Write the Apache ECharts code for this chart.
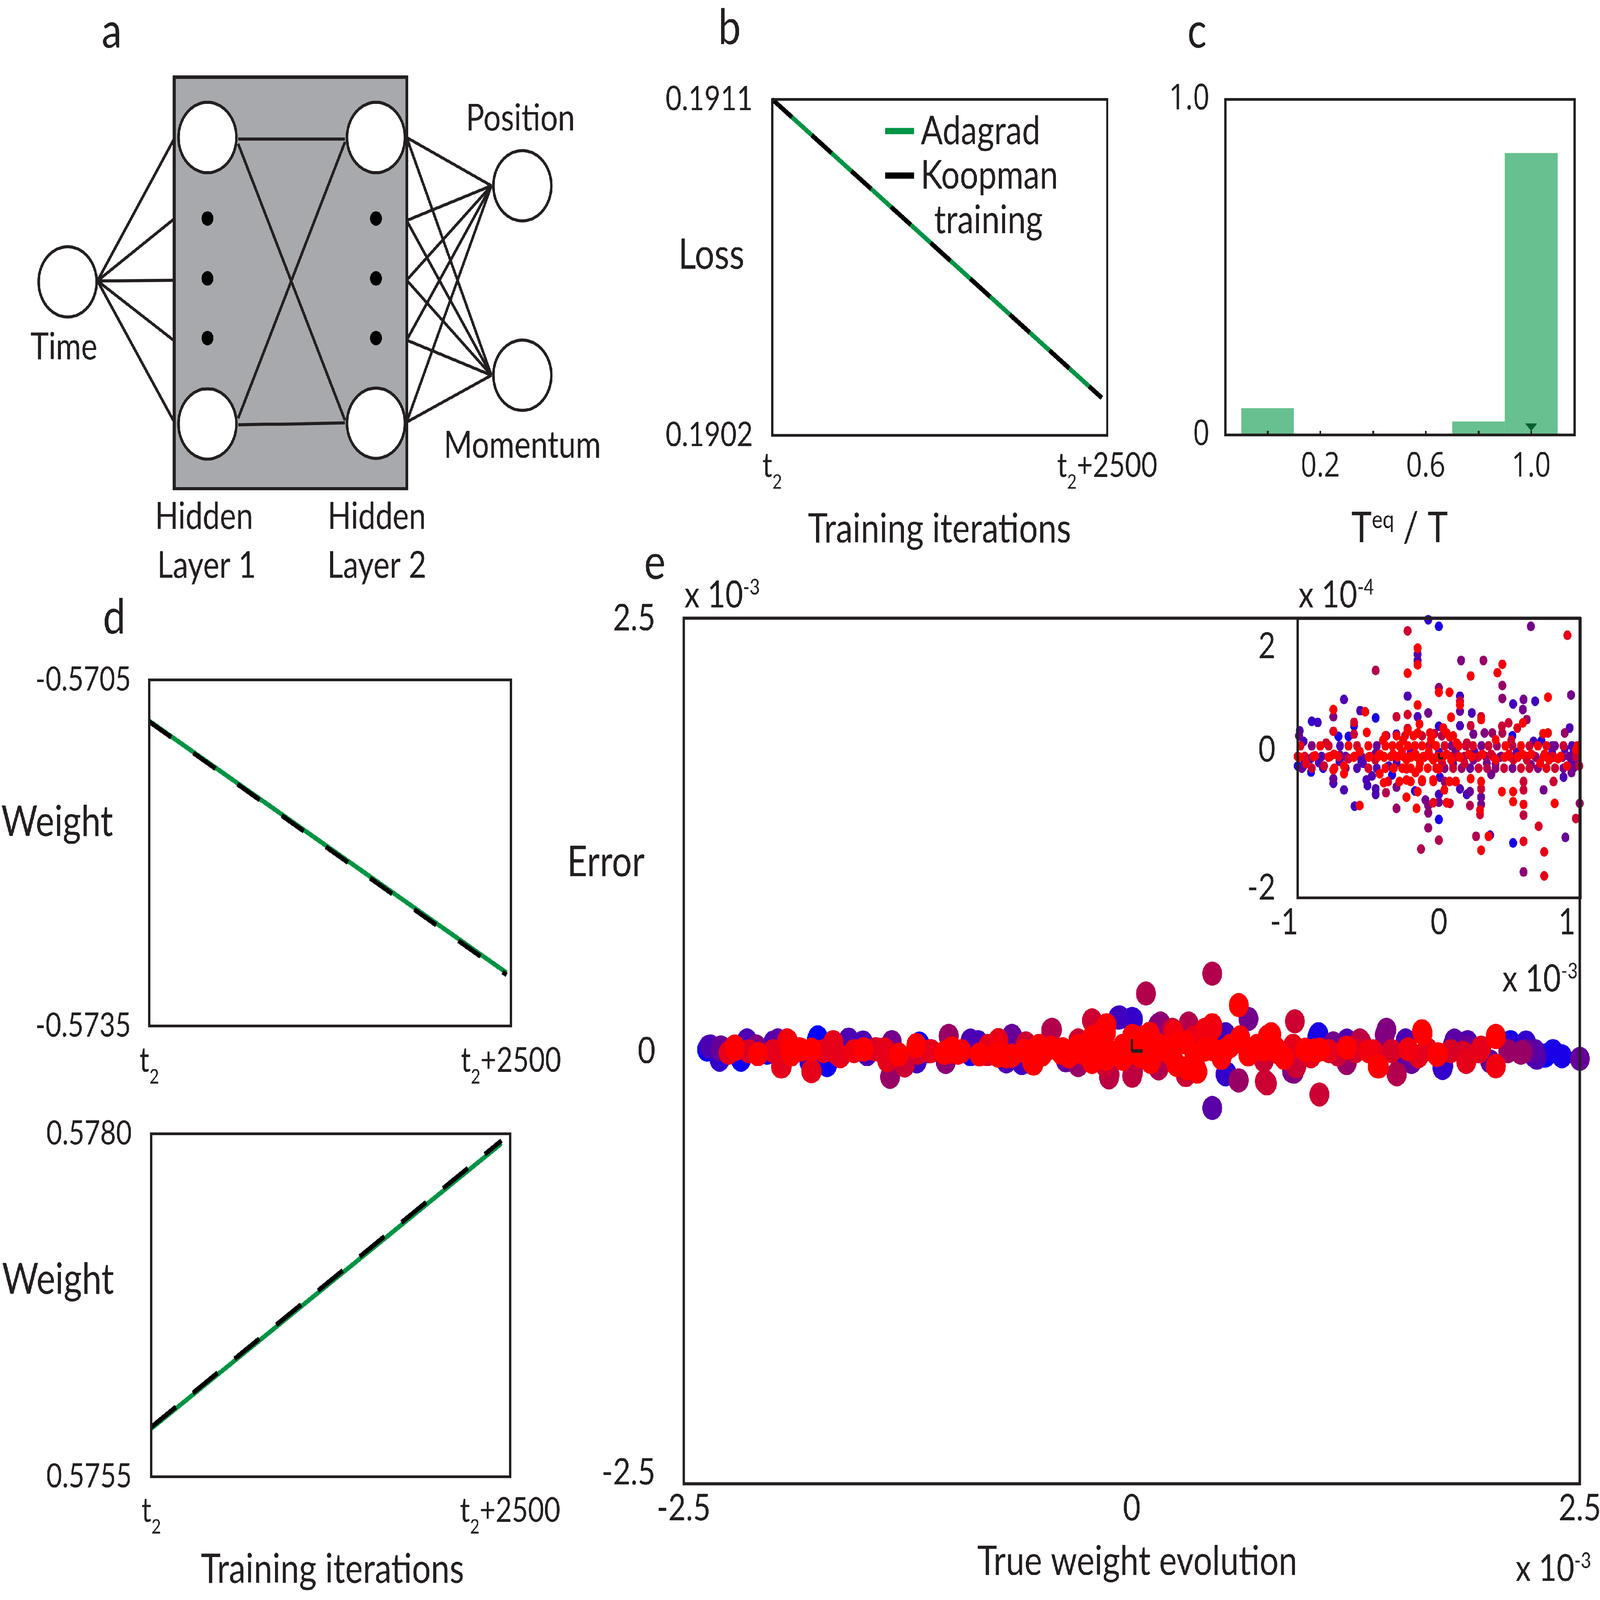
<!DOCTYPE html>
<html><head><meta charset="utf-8">
<script src="https://cdn.jsdelivr.net/npm/echarts@6/dist/echarts.min.js"></script>
<style>html,body{margin:0;padding:0;background:#fff;overflow:hidden}#c{width:5630px;height:4643px;transform-origin:0 0}</style>
</head><body><div id="c"></div>
<script>
// ---------------- data ----------------
// panel a: network schematic (diagram units)
const netBox = [613, 224, 1432, 1418];
const netNodes = [[238,818],[730,399],[730,1230],[1323,399],[1323,1228],[1838,539],[1838,1089]];
const netDots = [[730,634],[730,808],[730,981],[1323,634],[1323,808],[1323,981]];
const netEdges = [
  [343,815,610,407],[343,815,610,637],[343,815,610,813],[343,815,610,987],[343,815,610,1220],
  [838,403,1214,403],[838,417,1214,1220],[838,1214,1214,412],[838,1233,1214,1227],
  [1431,399,1729,539],[1431,640,1729,539],[1431,813,1729,539],[1431,987,1729,539],[1431,1225,1729,539],
  [1431,399,1729,1089],[1431,640,1729,1089],[1431,813,1729,1089],[1431,987,1729,1089],[1431,1225,1729,1089]
];
// panel b: loss
const lossIter = [0, 2460];
const lossAdagrad = [0.19110, 0.19030];
const lossKoopman = [0.19110, 0.19030];
const lossTicks = [0.1902, 0.1911];
// panel c: histogram of Teq/T
const teqBins = [[-0.1,0.1],[0.7,0.9],[0.9,1.1]];
const teqFreq = [0.08, 0.04, 0.84];
const teqMarker = [[1.0, 0]];
const teqTicks = [0, 0.2, 0.4, 0.6, 0.8, 1.0];
const teqLabels = [0.2, 0.6, 1.0];
// panel d: weights
const w1Iter = [0, 2470];
const w1Adagrad = [-0.570856, -0.573040];
const w1Koopman = [-0.570862, -0.573058];
const w1Ticks = [-0.5735, -0.5705];
const w2Iter = [0, 2440];
const w2Adagrad = [0.575850, 0.577930];
const w2Koopman = [0.575861, 0.577950];
const w2Ticks = [0.5755, 0.5780];
const iterTicks = [0, 2500];
// panel e: [true weight evolution (1e-3), error (1e-3), colour position 0=blue..1=red]
const mainPoints = [
[-2.370,0.008,0.0],[-2.350,0.026,0.3],[-2.293,0.021,0.4],[-2.216,0.026,1.0],[-2.181,-0.050,0.05],[-2.147,0.061,0.25],[-2.087,-0.018,1.0],[-2.138,-0.001,0.85],[-2.095,0.026,0.5],[-2.035,-0.010,0.05],
[-1.975,0.061,0.35],[-1.958,-0.089,0.9],[-1.924,0.061,0.85],[-1.906,0.013,1.0],[-1.846,0.008,1.0],[-1.786,-0.116,0.9],[-1.786,0.008,1.0],[-1.752,0.079,0.0],[-1.700,-0.081,0.05],[-1.666,0.052,0.9],
[-1.649,-0.010,0.9],[-1.580,0.066,0.3],[-1.494,0.008,1.0],[-1.477,-0.018,0.3],[-1.416,0.008,0.85],[-1.365,-0.054,0.85],[-1.348,-0.147,0.6],[-1.339,0.052,0.45],[-1.270,-0.081,0.7],[-1.227,-0.036,0.3],
[-1.202,0.035,1.0],[-1.193,-0.010,0.85],[-1.133,-0.001,0.45],[-1.047,-0.010,1.0],[-1.038,-0.063,0.5],[-1.021,0.088,0.6],[-1.004,0.017,1.0],[-0.970,-0.010,1.0],[-0.901,-0.018,0.1],[-0.858,0.052,0.25],
[-0.806,-0.018,0.85],[-0.746,0.026,0.95],[-0.746,-0.027,1.0],[-0.669,0.088,0.4],[-0.669,-0.027,1.0],[-0.600,-0.063,0.2],[-0.591,0.044,0.8],[-0.557,-0.063,1.0],[-0.523,0.026,1.0],[-0.445,0.123,0.7],
[-0.394,-0.010,1.0],[-0.368,-0.054,0.4],[-0.299,-0.081,0.6],[-0.299,0.061,0.8],[-0.222,0.177,0.8],[-0.222,0.079,1.0],[-0.222,-0.063,1.0],[-0.144,0.106,1.0],[-0.144,-0.045,1.0],[-0.127,-0.152,0.7],
[-0.067,0.194,0.2],[0.002,0.186,0.2],[0.002,0.088,1.0],[0.002,-0.143,0.75],[0.071,0.008,1.0],[0.079,0.332,0.7],[0.148,0.150,0.45],[0.148,0.035,1.0],[-0.273,-0.010,1.0],[-0.101,-0.010,1.0],
[-0.050,-0.045,1.0],[0.105,-0.063,1.0],
[0.160,0.159,0.55],[0.226,0.123,0.8],[0.317,0.159,0.7],[0.408,0.123,0.95],[0.449,0.150,0.95],[0.449,0.447,0.7],[0.449,-0.329,0.35],[0.597,0.265,1.0],
[0.651,0.186,0.45],[0.523,0.097,0.25],[0.523,-0.134,0.2],[0.597,-0.169,0.55],[0.754,-0.187,0.8],[0.778,0.097,1.0],[0.910,0.172,0.8],[0.894,-0.116,0.45],[0.968,0.008,1.0],[1.047,-0.251,0.8],
[1.042,0.097,0.1],[1.050,0.008,1.0],[1.124,0.044,0.45],[1.199,-0.054,0.5],[1.273,0.061,0.7],[1.347,-0.001,0.9],[1.372,-0.089,1.0],[1.421,0.123,0.5],[1.479,-0.134,0.7],[1.528,0.061,0.3],
[1.561,-0.063,0.4],[1.619,0.115,1.0],[1.709,-0.018,1.0],[1.734,-0.098,0.2],[1.792,0.035,0.1],[1.866,-0.063,0.8],[1.874,0.052,0.3],[1.940,-0.001,0.85],[2.031,0.088,0.95],[2.031,-0.089,0.9],
[2.113,0.052,0.05],[2.171,-0.010,0.6],[2.245,-0.027,0.3],[2.303,-0.027,0.0],[2.500,-0.045,0.4],
[0.029,0.008,1.0],[0.127,-0.010,1.0],[0.226,-0.027,1.0],[0.309,-0.098,1.0],[0.358,-0.098,1.0],[0.408,0.008,1.0],[0.523,0.008,1.0],[0.605,0.079,1.0],[0.671,0.000,1.0],[0.737,-0.054,0.8],
[0.737,0.008,1.0],[0.820,-0.010,1.0],[0.918,-0.089,0.8],[1.150,-0.020,0.8],[1.250,0.000,0.85],[1.450,0.000,0.85],[1.650,0.010,0.9],[1.850,-0.010,0.85],[2.200,0.000,0.4],[2.350,0.000,0.1],
[-2.361,0.024,0.25],[-2.296,0.010,0.4],[-2.214,0.010,1.0],[-2.149,0.057,0.3],[-2.083,-0.016,0.9],[-1.920,0.060,0.95],[-1.953,-0.089,0.9],[-1.855,0.010,1.0],[-1.789,-0.116,0.85],[-1.757,0.067,0.0],
[-1.708,-0.076,0.05],[-1.665,0.040,0.9],[-1.577,0.053,0.3],[-1.626,-0.030,0.9],[-1.496,0.010,1.0],[-1.430,0.010,0.85],[-1.365,-0.049,0.9],[-1.349,-0.149,0.55],[-1.339,0.047,0.45],[-1.267,-0.083,0.8],
[-1.202,0.030,1.0],[-1.185,0.043,0.0],[-1.022,0.087,0.5],[-1.022,-0.006,0.95],[-1.038,-0.056,0.55],[-0.891,0.043,0.3],[-0.744,0.063,0.9],[-0.744,-0.016,1.0],[-0.663,0.077,0.3],[-0.614,-0.069,0.25],
[-0.548,-0.073,1.0],[-0.516,0.030,1.0],[-0.450,0.120,0.7],[-0.385,0.010,1.0],[-0.287,-0.056,0.5],[-0.222,0.176,0.8],[-0.140,0.150,1.0],[-0.075,0.193,0.25],[0.007,0.183,0.2],[-0.124,-0.136,0.75],
[0.007,-0.122,0.7],[0.007,0.087,0.95],[0.072,0.083,1.0],[0.154,0.133,0.5],[0.235,0.110,0.95],[0.317,0.133,0.7],[0.301,0.050,1.0],[0.301,-0.139,0.8],[0.366,-0.119,1.0],[0.448,0.130,0.95],
[0.529,-0.129,0.1],[0.595,-0.169,0.6],[0.758,0.083,0.95],[0.742,-0.175,0.8],[0.905,-0.119,0.5],[1.036,0.083,0.1],[1.019,0.004,1.0],[1.199,-0.069,0.6],[1.281,0.050,0.75],[1.411,0.093,0.5],
[1.379,-0.089,1.0],[1.477,-0.132,0.7],[1.623,0.103,1.0],[1.542,0.010,0.95],[1.738,-0.086,0.2],[1.705,-0.023,1.0],[1.868,-0.056,0.9],[1.868,0.024,0.4],[2.032,0.080,1.0],[2.032,-0.086,0.95],
[2.113,0.030,0.15],[2.179,-0.006,0.6],[2.260,-0.039,0.3],[2.309,-0.026,0.0],
[-0.60,0.00,1.0],[-0.50,-0.02,1.0],[-0.45,0.02,1.0],[-0.35,-0.03,1.0],[-0.30,0.03,1.0],[-0.20,0.00,1.0],[-0.15,-0.02,1.0],[-0.05,0.03,1.0],[0.05,-0.03,1.0],[0.10,0.02,1.0],
[0.20,0.00,1.0],[0.25,0.04,1.0],[0.35,-0.03,1.0],[0.45,0.01,1.0],[0.50,-0.04,1.0],[0.55,0.03,1.0],[0.65,-0.02,1.0],[0.70,0.03,1.0],[0.80,0.02,1.0],[0.85,-0.04,1.0],
[0.90,0.03,0.9],[-0.18,0.10,1.0],[-0.15,-0.08,0.8],[0.10,0.10,1.0],[0.25,-0.08,1.0],[0.35,0.08,0.9],[0.15,-0.10,0.7],
[-2.25,-0.01,0.9],[-2.00,0.00,0.9],[-1.90,-0.02,1.0],[-1.72,0.00,0.9],[-1.55,0.00,0.95],[-1.38,0.01,0.9],[-1.30,-0.02,1.0],[-1.12,0.00,0.9],[-0.95,0.00,0.95],[-0.85,-0.02,1.0],
[-0.80,0.03,0.9],[-0.70,-0.03,0.95],[1.00,-0.03,0.9],[1.10,0.00,0.9],[1.20,0.02,1.0],[1.32,0.00,0.95],[1.60,-0.03,0.9],[1.78,0.00,0.85],[1.95,0.02,0.9],[2.10,0.00,0.6],[2.25,0.00,0.35],
[-2.30,-0.05,0.2],[-2.00,0.05,0.3],[-1.80,-0.06,0.2],[-1.50,0.05,0.3],[-1.20,-0.06,0.25],[-0.90,0.06,0.3],[-0.70,-0.06,0.3],[1.20,0.06,0.3],[1.50,-0.06,0.3],[1.80,0.06,0.35],
[2.00,-0.06,0.4],[2.20,0.05,0.2],[2.40,-0.03,0.1]
];
// inset: [true weight evolution (1e-3), error (1e-4), colour position]
const insetPoints = [
[-0.076,2.48,0.2],[-0.001,2.36,0.1],[0.650,2.36,0.45],[0.908,2.20,0.9],[-0.222,2.28,0.8],[-0.151,1.97,1.0],[-0.151,1.86,0.35],[-0.151,1.75,0.3],[-0.151,1.67,1.0],[-0.448,1.57,0.7],
[0.156,1.75,0.5],[0.314,1.75,0.6],[0.448,1.68,0.95],[0.413,1.53,0.95],[0.224,1.47,0.95],[-0.222,1.52,1.0],[0.448,1.30,0.6],[-0.001,1.26,0.55],[-0.001,1.18,1.0],[0.074,1.18,1.0],
[-0.222,1.11,0.3],[0.148,1.11,0.25],[0.934,1.13,0.45],[0.771,1.09,1.0],[-0.672,1.05,0.3],[0.448,1.07,0.55],[0.598,1.05,0.45],[0.524,0.97,0.25],[0.680,1.02,0.25],[0.148,1.02,0.8],
[-0.151,0.95,1.0],[0.148,0.95,1.0],[-0.747,0.87,1.0],[-0.747,0.74,0.5],[-0.558,0.85,0.3],[-0.522,0.83,1.0],[0.593,0.87,0.45],[0.148,0.84,0.4],[-0.900,0.66,0.2],[-0.858,0.64,0.25],
[-0.448,0.72,0.1],[-0.301,0.74,0.8],[-0.222,0.78,0.85],[-0.076,0.81,0.45],[-0.151,0.74,0.3],[0.085,0.73,1.0],[0.232,0.81,0.3],[0.298,0.74,0.8],[0.298,0.69,1.0],[0.621,0.69,0.6],
[0.593,0.63,1.0],[0.492,0.63,0.8],[-0.601,0.64,0.85],[-0.601,0.58,0.1],[-0.138,0.61,1.0],[-0.222,0.53,0.85],[-0.001,0.57,0.15],[0.030,0.54,1.0],[0.148,0.58,0.3],[0.224,0.58,0.8],
[0.445,0.57,0.8],[0.554,0.54,0.9],[0.924,0.54,0.3],[-0.985,0.49,0.3],[-0.990,0.40,0.4],[-0.747,0.48,0.9],[-0.711,0.39,0.1],[-0.640,0.39,0.1],[-0.601,0.43,0.8],[-0.511,0.46,1.0],
[-0.372,0.40,0.3],[-0.301,0.43,0.25],[-0.222,0.48,1.0],[-0.151,0.45,1.0],[-0.064,0.45,0.95],[-0.033,0.44,0.75],[0.054,0.45,1.0],[0.077,0.38,1.0],[0.243,0.43,0.45],[0.322,0.45,0.5],
[0.377,0.45,0.6],[0.448,0.45,0.7],[0.519,0.40,0.1],[0.737,0.44,1.0],[0.771,0.45,0.95],[0.889,0.45,0.6],[-0.396,0.32,1.0],[-0.254,0.32,1.0],[-0.057,0.33,1.0],[0.125,0.27,1.0],
[0.196,0.27,0.8],[0.401,0.33,1.0],[0.511,0.32,0.8],[0.669,0.30,0.3],[0.724,0.31,0.15],[-0.798,0.27,0.8],[-0.958,0.30,0.3],[0.803,0.22,0.3],[0.889,0.17,0.3],[0.953,0.12,0.15],
[0.968,0.15,1.0],
[-0.987,0.02,1.0],[-0.940,-0.09,0.9],[-0.908,-0.01,0.3],[-0.876,0.04,1.0],[-0.813,-0.14,0.8],[-0.782,0.02,1.0],[-0.742,0.07,1.0],[-0.742,-0.19,1.0],[-0.703,-0.06,0.3],[-0.672,-0.14,1.0],
[-0.640,-0.01,0.8],[-0.601,0.02,1.0],[-0.561,0.12,1.0],[-0.537,-0.09,0.3],[-0.498,0.02,1.0],[-0.451,-0.03,0.8],[-0.419,0.07,1.0],[-0.388,0.02,1.0],[-0.356,-0.14,0.3],[-0.325,0.07,1.0],
[-0.293,0.02,1.0],[-0.262,0.12,1.0],[-0.230,-0.03,1.0],[-0.198,0.02,1.0],[-0.167,0.07,1.0],[-0.135,-0.09,1.0],[-0.104,0.02,1.0],[-0.072,0.12,1.0],[-0.041,-0.03,1.0],[-0.009,0.02,1.0],
[0.022,-0.09,0.8],[0.054,0.07,1.0],[0.085,-0.03,1.0],[0.117,0.12,0.45],[0.148,0.02,1.0],[0.180,-0.09,0.8],[0.211,0.07,1.0],[0.243,-0.03,0.45],[0.274,0.02,0.8],[0.306,0.07,1.0],
[0.338,-0.09,0.45],[0.369,0.07,0.8],[0.401,-0.03,1.0],[0.432,0.02,0.45],[0.464,0.02,1.0],[0.495,0.07,1.0],[0.527,-0.03,0.8],[0.558,0.02,1.0],[0.590,0.07,1.0],[0.621,-0.03,0.8],
[0.653,0.07,1.0],[0.684,0.02,0.45],[0.716,-0.09,1.0],[0.747,0.07,1.0],[0.779,-0.03,1.0],[0.810,0.02,0.8],[0.842,-0.01,1.0],[0.874,0.02,0.45],[0.905,-0.14,1.0],[0.937,-0.09,0.3],
[0.968,-0.01,0.45],[0.992,-0.14,0.8],
[-0.95,-0.05,0.1],[-0.85,-0.08,0.3],[-0.70,0.05,0.4],[-0.55,-0.05,0.2],[-0.45,0.08,0.4],[-0.30,-0.08,0.3],[-0.20,0.10,0.4],[0.00,0.10,0.3],[0.10,-0.10,0.4],[0.25,0.12,0.35],
[0.40,-0.10,0.4],[0.55,0.10,0.3],[0.65,-0.12,0.5],[0.80,0.10,0.35],[0.95,0.05,0.3],
[-0.999,-0.14,0.1],[-0.958,-0.14,0.3],[-0.905,-0.25,0.05],[-0.747,-0.21,1.0],[-0.747,-0.37,0.4],[-0.747,-0.45,0.3],[-0.672,-0.28,1.0],[-0.672,-0.57,0.3],[-0.597,-0.86,0.25],[-0.561,-0.85,1.0],
[-0.514,-0.39,0.3],[-0.506,-0.49,0.25],[-0.474,-0.32,0.3],[-0.448,-0.55,0.3],[-0.448,-0.65,0.3],[-0.419,-0.28,1.0],[-0.391,-0.44,1.0],[-0.375,-0.62,0.7],[-0.332,-0.30,0.1],[-0.301,-0.52,0.5],
[-0.301,-0.90,0.6],[-0.230,-0.19,1.0],[-0.230,-0.39,1.0],[-0.230,-0.70,1.0],[-0.170,-0.59,0.1],[-0.151,-0.60,1.0],[-0.159,-0.90,1.0],[-0.120,-0.39,1.0],[-0.167,-0.26,1.0],[-0.096,-0.75,0.45],
[-0.076,-0.85,0.5],[-0.076,-0.98,0.55],[-0.041,-0.80,0.9],[-0.041,-0.39,1.0],[-0.001,-0.19,1.0],[0.006,-0.34,0.2],[-0.001,-0.65,0.25],[-0.001,-0.79,0.4],[0.038,-0.57,1.0],[0.054,-0.80,1.0],
[0.077,-0.81,0.75],[0.074,-0.42,1.0],[0.148,-0.55,0.3],[0.117,-0.42,0.85],[0.196,-0.65,0.25],[0.219,-0.60,0.4],[0.219,-0.85,0.7],[0.224,-0.37,1.0],[0.298,-0.42,1.0],[0.298,-0.55,0.8],
[0.298,-0.70,0.4],[0.298,-0.83,0.45],[0.290,-0.93,0.95],[0.290,-1.01,0.8],[0.369,-0.29,0.45],[0.445,-0.60,1.0],[0.524,-0.60,1.0],[0.524,-0.78,1.0],[0.598,-0.42,0.8],[0.598,-0.57,0.8],
[0.598,-0.83,0.95],[0.598,-1.02,0.75],[0.740,-0.57,0.45],[0.818,-0.81,1.0],[0.810,-0.42,0.8],[0.881,-0.34,0.3],[0.937,-0.26,0.45],[0.995,-0.81,0.6],[0.968,-1.08,0.8],[-0.001,-1.10,0.1],
[-0.076,-1.25,0.6],[-0.001,-1.47,0.7],[-0.127,-1.63,0.7],[0.262,-1.40,0.7],[0.298,-1.65,0.95],[0.361,-1.38,0.3],[0.350,-1.40,1.0],[0.524,-1.52,0.1],[0.598,-1.49,0.9],[0.705,-1.22,0.85],
[0.744,-1.68,0.9],[0.894,-1.42,0.4],[0.598,-2.04,0.55],[0.744,-2.11,0.9],
[-0.98,0.22,0.9],[-0.90,0.22,0.5],[-0.84,0.22,1.0],[-0.78,0.22,0.85],[-0.70,0.22,0.3],[-0.64,0.22,1.0],[-0.58,0.22,0.85],[-0.50,0.22,1.0],[-0.44,0.22,0.4],[-0.38,0.22,1.0],
[-0.33,0.22,1.0],[-0.28,0.22,1.0],[-0.22,0.22,1.0],[-0.17,0.22,1.0],[-0.12,0.22,1.0],[-0.07,0.22,0.8],[-0.02,0.22,1.0],[0.04,0.22,0.85],[0.09,0.22,0.5],[0.14,0.22,1.0],
[0.19,0.22,0.75],[0.24,0.22,0.85],[0.30,0.22,0.45],[0.35,0.22,0.8],[0.41,0.22,0.6],[0.47,0.22,1.0],[0.52,0.22,0.7],[0.58,0.22,1.0],[0.64,0.22,0.8],[0.70,0.22,1.0],
[0.76,0.22,0.9],[0.82,0.22,0.45],[0.88,0.22,0.8],[0.94,0.22,0.3],[0.98,0.22,1.0],
[-1.00,0.03,1.0],[-0.95,0.03,0.85],[-0.89,0.03,0.9],[-0.83,0.03,0.3],[-0.77,0.03,0.85],[-0.71,0.03,0.9],[-0.66,0.03,0.4],[-0.60,0.03,0.9],[-0.55,0.03,0.3],[-0.49,0.03,0.95],
[-0.43,0.03,1.0],[-0.39,0.03,1.0],[-0.34,0.03,1.0],[-0.29,0.03,1.0],[-0.25,0.03,1.0],[-0.20,0.03,1.0],[-0.16,0.03,1.0],[-0.11,0.03,1.0],[-0.06,0.03,1.0],[-0.01,0.03,0.9],
[0.03,0.03,1.0],[0.08,0.03,0.85],[0.13,0.03,0.8],[0.18,0.03,0.55],[0.23,0.03,1.0],[0.28,0.03,0.8],[0.33,0.03,0.6],[0.38,0.03,0.85],[0.44,0.03,0.45],[0.50,0.03,0.85],
[0.56,0.03,1.0],[0.62,0.03,0.85],[0.68,0.03,0.6],[0.74,0.03,1.0],[0.80,0.03,0.85],[0.86,0.03,1.0],[0.92,0.03,0.45],[0.97,0.03,0.8],
[-0.97,-0.18,0.4],[-0.90,-0.18,0.8],[-0.82,-0.18,0.2],[-0.74,-0.18,0.9],[-0.66,-0.18,0.55],[-0.58,-0.18,0.3],[-0.50,-0.18,0.85],[-0.44,-0.18,0.3],[-0.38,-0.18,1.0],[-0.32,-0.18,1.0],
[-0.26,-0.18,1.0],[-0.20,-0.18,1.0],[-0.14,-0.18,1.0],[-0.08,-0.18,1.0],[-0.02,-0.18,0.9],[0.04,-0.18,0.5],[0.10,-0.18,0.8],[0.16,-0.18,0.6],[0.22,-0.18,0.4],[0.28,-0.18,0.8],
[0.34,-0.18,0.7],[0.40,-0.18,0.55],[0.46,-0.18,0.8],[0.52,-0.18,0.45],[0.58,-0.18,0.85],[0.64,-0.18,0.8],[0.70,-0.18,0.5],[0.76,-0.18,0.9],[0.82,-0.18,0.8],[0.88,-0.18,0.45],
[0.95,-0.18,0.4],
[-0.38,0.40,1.0],[-0.30,0.40,1.0],[-0.24,0.40,0.85],[-0.18,0.40,1.0],[-0.12,0.40,0.8],[-0.05,0.40,1.0],[0.02,0.40,0.7],[0.10,0.40,1.0],
[-0.36,-0.42,0.9],[-0.28,-0.42,1.0],[-0.20,-0.42,1.0],[-0.12,-0.42,0.8],[-0.04,-0.42,1.0],[0.04,-0.42,0.6],[0.12,-0.42,1.0]
];
const eTicks = [-2.5, 0, 2.5];
const insetXTicks = [-1, 0, 1];
const insetYTicks = [-2, 0, 2];

// ---------------- styles ----------------
const INK = '#231f20', GREEN = '#009444', BAR = '#67c08f', MARK = '#00612e';
const F = 'Lato', FC = 'Open Sans';
const pair = (xs, ys) => xs.map((x, i) => [x, ys[i]]);
const byColour = arr => arr.slice().sort((a, b) => a[2] - b[2]);

const tRich = {
  t: {fontFamily: F, fontSize: 98, lineHeight: 98, color: INK},
  s: {fontFamily: F, fontSize: 58, lineHeight: 58, color: INK, padding: [95, 0, 0, 0]}
};
const tFormatter = v => v === 0 ? '{t|t}{s|2}' : '{t|t}{s|2}{t|+2500}';
const box = (l, t, w, h, bw) => ({left: l, top: t, width: w, height: h, show: true, borderColor: INK,
  borderWidth: bw || 8, backgroundColor: 'transparent', containLabel: false, outerBoundsMode: 'none', z: 10});
const noAxis = {axisLine: {show: false}, splitLine: {show: false}};
const lab = (size, margin, vals, fmt, fam, rich) => ({show: true, customValues: vals, formatter: fmt, margin,
  fontFamily: fam || F, fontSize: size, color: INK, rich});
const iterX = (gi, margin) => Object.assign({gridIndex: gi, type: 'value', min: 0, max: 2500,
  axisTick: {show: false},
  axisLabel: {show: true, customValues: iterTicks, formatter: tFormatter, rich: tRich, margin}}, noAxis);
const tok = (size, padding) => ({fontFamily: F, fontSize: size, lineHeight: size, color: INK, padding});

function txt(text, x, y, size, align, fam) {
  return {type: 'text', x, y, silent: true, z: 50,
    style: {text, fill: INK, font: size + 'px ' + (fam || F), align: align || 'center', verticalAlign: 'middle'}};
}
function supTxt(base, sup, x, y, size, supSize, raise, align) {
  return {type: 'text', x, y, silent: true, z: 50,
    style: {text: '{a|' + base + '}{b|' + sup + '}', align: align || 'left', verticalAlign: 'middle',
      rich: {a: {fontFamily: F, fontSize: size, lineHeight: size, fill: INK},
             b: {fontFamily: F, fontSize: supSize, lineHeight: supSize, fill: INK, padding: [0, 0, raise, 0]}}}};
}

const option = {
  animation: false,
  backgroundColor: '#fff',
  textStyle: {fontFamily: F},
  grid: [
    {left: 0, top: 0, width: 2200, height: 1700, show: false, containLabel: false, outerBoundsMode: 'none'},
    box(2717, 288, 1179, 975),
    box(4312, 288, 1229, 974),
    box(525, 1973, 1273, 1004),
    box(532, 3290, 1263, 995),
    box(2406, 1794, 3153, 2512, 9),
    box(4566, 1795, 995, 810)
  ],
  xAxis: [
    {gridIndex: 0, type: 'value', min: 0, max: 2200, show: false},
    iterX(1, 40),
    Object.assign({gridIndex: 2, type: 'value', min: -0.16, max: 1.165, z: 12,
      axisTick: {show: true, inside: true, length: 12, customValues: teqTicks, lineStyle: {color: INK, width: 6}},
      axisLabel: lab(98, 44, teqLabels, v => v.toFixed(1), FC)}, noAxis),
    iterX(3, 52),
    iterX(4, 50),
    Object.assign({gridIndex: 5, type: 'value', min: -2.5, max: 2.5, z: 12,
      axisTick: {show: true, inside: true, length: 35, customValues: [0], lineStyle: {color: INK, width: 7}},
      axisLabel: lab(107, 18, eTicks, v => String(v))}, noAxis),
    Object.assign({gridIndex: 6, type: 'value', min: -1, max: 1, z: 12,
      axisTick: {show: true, inside: true, length: 14, customValues: [0], lineStyle: {color: INK, width: 7}},
      axisLabel: lab(104, 20, insetXTicks, v => v === 0 ? '0' : '{e|' + v + '}', F, {e: tok(104, [0, 94, 0, 0])})}, noAxis)
  ],
  yAxis: [
    {gridIndex: 0, type: 'value', min: 0, max: 1700, inverse: true, show: false},
    Object.assign({gridIndex: 1, type: 'value', min: 0.1902, max: 0.1911, axisTick: {show: false},
      axisLabel: lab(98, 68, lossTicks, v => v.toFixed(4))}, noAxis),
    Object.assign({gridIndex: 2, type: 'value', min: 0, max: 1, axisTick: {show: false},
      axisLabel: lab(102, 56, [0, 1], v => v === 0 ? '0' : '1.0', FC)}, noAxis),
    Object.assign({gridIndex: 3, type: 'value', min: -0.5735, max: -0.5705, axisTick: {show: false},
      axisLabel: lab(96, 64, w1Ticks, v => v.toFixed(4))}, noAxis),
    Object.assign({gridIndex: 4, type: 'value', min: 0.5755, max: 0.5780, axisTick: {show: false},
      axisLabel: lab(96, 68, w2Ticks, v => v.toFixed(4))}, noAxis),
    Object.assign({gridIndex: 5, type: 'value', min: -2.5, max: 2.5, z: 12,
      axisTick: {show: true, inside: true, length: 38, customValues: [0], lineStyle: {color: INK, width: 10}},
      axisLabel: lab(107, 100, eTicks, v => v < 0 ? '{lo|' + v + '}' : String(v), F, {lo: tok(107, [0, 0, 66, 0])})}, noAxis),
    Object.assign({gridIndex: 6, type: 'value', min: -2.5, max: 2.5, z: 12,
      axisTick: {show: true, inside: true, length: 14, customValues: [0], lineStyle: {color: INK, width: 7}},
      axisLabel: lab(104, 78, insetYTicks,
        v => v < 0 ? '{lo|' + v + '}' : (v === 0 ? '{z|0}' : String(v)), F,
        {lo: tok(104, [106, 0, 0, 0]), z: tok(104, [0, 0, 48, 0])})}, noAxis)
  ],
  legend: {
    left: 3109, top: 318, orient: 'vertical', itemWidth: 103, itemHeight: 18, itemGap: 14, icon: 'rect',
    selectedMode: false, data: ['Adagrad', 'Koopman training'],
    formatter: n => n === 'Koopman training' ? 'Koopman' : n,
    textStyle: {fontFamily: F, fontSize: 115, lineHeight: 115, color: INK, padding: [0, 0, 0, 18]}
  },
  visualMap: {type: 'continuous', show: false, dimension: 2, min: 0, max: 1, seriesIndex: [12, 13],
    inRange: {color: ['#0000ff', '#ff0000']}},
  series: [
    {type: 'custom', xAxisIndex: 0, yAxisIndex: 0, silent: true, z: 1, data: [netBox],
      renderItem: (p, api) => {
        const a = api.coord([api.value(0), api.value(1)]), b = api.coord([api.value(2), api.value(3)]);
        return {type: 'rect', shape: {x: a[0], y: a[1], width: b[0] - a[0], height: b[1] - a[1]},
          style: {fill: '#a7a9ac', stroke: INK, lineWidth: 10}};
      }},
    {type: 'lines', coordinateSystem: 'cartesian2d', xAxisIndex: 0, yAxisIndex: 0, silent: true, z: 2,
      data: netEdges.map(e => ({coords: [[e[0], e[1]], [e[2], e[3]]]})),
      lineStyle: {color: INK, width: 9, opacity: 1}},
    {type: 'scatter', xAxisIndex: 0, yAxisIndex: 0, silent: true, z: 3, data: netNodes, symbolSize: 204,
      itemStyle: {color: '#fff', borderColor: INK, borderWidth: 9, opacity: 1}},
    {type: 'scatter', xAxisIndex: 0, yAxisIndex: 0, silent: true, z: 3, data: netDots, symbolSize: 42,
      itemStyle: {color: '#000', opacity: 1}},
    {type: 'line', name: 'Adagrad', xAxisIndex: 1, yAxisIndex: 1, data: pair(lossIter, lossAdagrad), symbol: 'none',
      color: GREEN, itemStyle: {color: GREEN}, lineStyle: {color: GREEN, width: 14}},
    {type: 'line', name: 'Koopman training', xAxisIndex: 1, yAxisIndex: 1, data: pair(lossIter, lossKoopman), symbol: 'none',
      color: '#000', itemStyle: {color: '#000'}, lineStyle: {color: '#000', width: 14, type: [87, 87]}},
    {type: 'custom', xAxisIndex: 2, yAxisIndex: 2, silent: true, z: 2,
      data: teqBins.map((b, i) => [b[0], b[1], teqFreq[i]]),
      renderItem: (p, api) => {
        const a = api.coord([api.value(0), api.value(2)]), b = api.coord([api.value(1), 0]);
        return {type: 'rect', shape: {x: a[0], y: a[1], width: b[0] - a[0], height: b[1] - a[1]}, style: {fill: BAR}};
      }},
    {type: 'scatter', xAxisIndex: 2, yAxisIndex: 2, silent: true, z: 13, data: teqMarker, symbol: 'triangle',
      symbolRotate: 180, symbolSize: [42, 22], symbolOffset: [0, -22], itemStyle: {color: MARK, opacity: 1}},
    {type: 'line', name: 'Adagrad', xAxisIndex: 3, yAxisIndex: 3, data: pair(w1Iter, w1Adagrad), symbol: 'none',
      color: GREEN, lineStyle: {color: GREEN, width: 14}},
    {type: 'line', name: 'Koopman training', xAxisIndex: 3, yAxisIndex: 3, data: pair(w1Iter, w1Koopman), symbol: 'none',
      color: '#000', lineStyle: {color: '#000', width: 14, type: [90, 90]}},
    {type: 'line', name: 'Adagrad', xAxisIndex: 4, yAxisIndex: 4, data: pair(w2Iter, w2Adagrad), symbol: 'none',
      color: GREEN, lineStyle: {color: GREEN, width: 14}},
    {type: 'line', name: 'Koopman training', xAxisIndex: 4, yAxisIndex: 4, data: pair(w2Iter, w2Koopman), symbol: 'none',
      color: '#000', lineStyle: {color: '#000', width: 14, type: [105, 72]}},
    {type: 'scatter', xAxisIndex: 5, yAxisIndex: 5, silent: true, data: byColour(mainPoints), symbolSize: 70,
      itemStyle: {opacity: 1}},
    {type: 'scatter', xAxisIndex: 6, yAxisIndex: 6, silent: true, data: byColour(insetPoints), symbolSize: 28,
      itemStyle: {opacity: 1}}
  ],
  graphic: [
    txt('a', 393, 92, 142), txt('b', 2567, 82, 142), txt('c', 4212, 92, 142),
    txt('d', 402, 1793, 142), txt('e', 2304, 1634, 142),
    txt('Time', 225, 1008, 108), txt('Position', 1831, 344, 108), txt('Momentum', 1838, 1293, 108),
    txt('Hidden', 718, 1500, 108), txt('Layer 1', 727, 1642, 108),
    txt('Hidden', 1326, 1500, 108), txt('Layer 2', 1326, 1642, 108),
    txt('Loss', 2503, 741, 122), txt('training', 3478, 640, 115),
    txt('Training iterations', 3306, 1536, 118),
    {type: 'text', x: 4925, y: 1534, silent: true, z: 50,
      style: {text: '{a|T}{b|eq}{a| / T}', align: 'center', verticalAlign: 'middle',
        rich: {a: {fontFamily: F, fontSize: 122, lineHeight: 122, fill: INK},
               b: {fontFamily: F, fontSize: 72, lineHeight: 72, fill: INK, padding: [0, 0, 50, 0]}}}},
    txt('Weight', 201, 2386, 124), txt('Weight', 204, 3714, 124),
    txt('Training iterations', 1170, 4555, 118),
    txt('Error', 2132, 2503, 124), txt('True weight evolution', 4002, 4532, 118),
    supTxt('x 10', '-3', 2408, 1728, 108, 62, 46),
    supTxt('x 10', '-4', 4569, 1728, 108, 62, 46),
    supTxt('x 10', '-3', 5286, 2842, 108, 62, 46),
    supTxt('x 10', '-3', 5333, 4553, 108, 62, 46)
  ]
};
// The figure is laid out on a 5630 x 4643 page; fit that page to the actual window.
const W = 5630, H = 4643;
const el = document.getElementById('c');
const sx = (window.innerWidth || W) / W, sy = (window.innerHeight || H) / H;
el.style.transform = 'scale(' + sx + ',' + sy + ')';
const chart = echarts.init(el, null, {renderer: 'canvas', width: W, height: H});
chart.setOption(option);
</script></body></html>
